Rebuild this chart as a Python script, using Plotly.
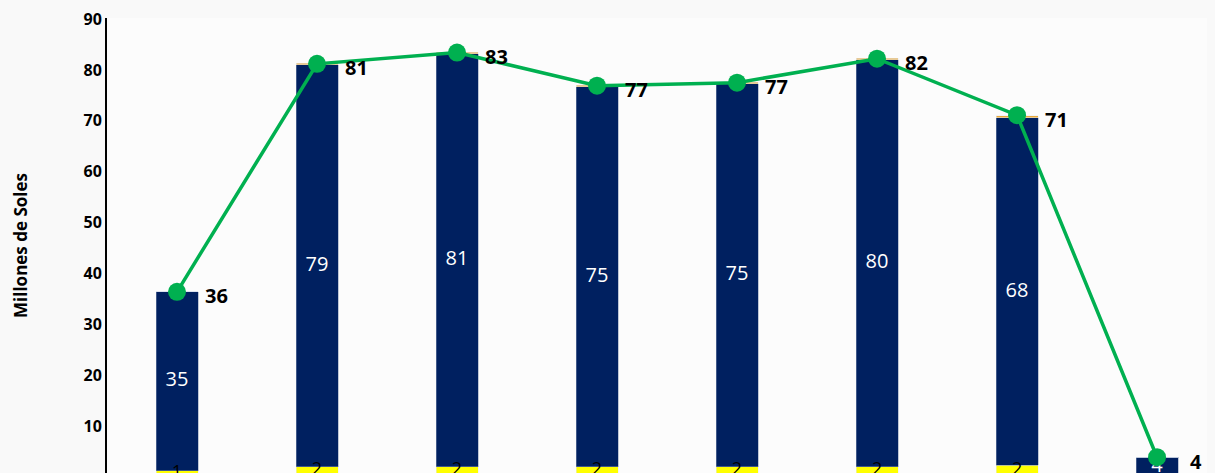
import plotly.graph_objects as go

categories = ['A2016', 'A2017', 'A2018', 'A2019', 'A2020', 'A2021', 'A2022', 'A2023']
yellow_vals = [1.2, 2.0, 2.0, 2.0, 2.0, 2.0, 2.3, 0.0]
navy_vals = [35.2, 79.0, 81.2, 74.7, 75.3, 80.0, 68.3, 3.9]
orange_vals = [0.0, 0.3, 0.3, 0.3, 0.3, 0.3, 0.4, 0.0]
total_vals = [36.4, 81.2, 83.4, 76.9, 77.5, 82.2, 71.1, 3.9]
navy_labels = ['35', '79', '81', '75', '75', '80', '68', '4']
yellow_labels = ['1', '2', '2', '2', '2', '2', '2', '']
total_labels = ['36', '81', '83', '77', '77', '82', '71', '4']

font_family = 'Open Sans'

fig = go.Figure()

# stacked bars
fig.add_trace(go.Bar(x=categories, y=yellow_vals, marker=dict(color='#ffff00'),
                     width=0.3, name='A'))
fig.add_trace(go.Bar(x=categories, y=navy_vals, marker=dict(color='#002060', line=dict(color='#8090b0', width=0.5)),
                     width=0.3, name='B'))
fig.add_trace(go.Bar(x=categories, y=orange_vals, marker=dict(color='#e8a838'),
                     width=0.3, name='C'))

# bar labels (same size everywhere, small bars included)
fig.add_trace(go.Scatter(x=categories, y=[a + b / 2 for a, b in zip(yellow_vals, navy_vals)], mode='text',
                         text=navy_labels, textfont=dict(color='white', size=20, family=font_family),
                         cliponaxis=False, showlegend=False))
fig.add_trace(go.Scatter(x=categories, y=[v / 2 + 0.2 for v in yellow_vals], mode='text',
                         text=yellow_labels, textfont=dict(color='black', size=18, family=font_family),
                         cliponaxis=False, showlegend=False))

# total line
fig.add_trace(go.Scatter(x=categories, y=total_vals, mode='lines+markers',
                         line=dict(color='#00b050', width=3.5),
                         marker=dict(color='#00b050', size=18), cliponaxis=False, name='Total'))

for i, (v, t) in enumerate(zip(total_vals, total_labels)):
    fig.add_annotation(x=i, y=v, text='<b>' + t + '</b>', showarrow=False,
                       xshift=39, yshift=-4,
                       font=dict(color='black', size=20, family=font_family))

# page body has an 8px margin, so the figure is shrunk by that much
fig.update_layout(
    barmode='stack',
    showlegend=False,
    width=1207, height=465,
    margin=dict(l=99, r=0, t=8, b=0),
    paper_bgcolor='#f9f9f9',
    plot_bgcolor='#fcfcfc',
    font=dict(family=font_family, color='black'),
    xaxis=dict(type='category', range=[-0.5, 7.414], showgrid=False, zeroline=False,
               showticklabels=False, showline=False),
    yaxis=dict(range=[0.8, 90.2], showgrid=False, zeroline=False, showline=True, linecolor='black', linewidth=2,
               tickvals=[10, 20, 30, 40, 50, 60, 70, 80, 90], ticks='', ticklabeloverflow='allow',
               tickfont=dict(size=16, family=font_family, weight='bold'),
               title=dict(text='<b>Millones de Soles</b>', font=dict(size=17), standoff=52)),
)

fig.write_html('out.html', post_script="document.body.style.background='#f9f9f9';")
